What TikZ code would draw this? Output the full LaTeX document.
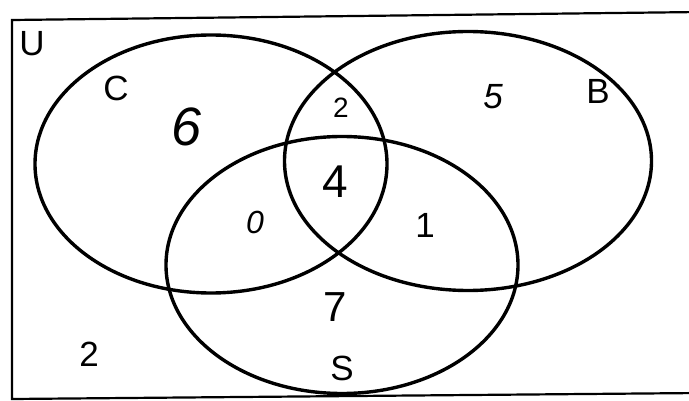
\documentclass[tikz,border=0pt]{standalone}
\usepackage{fontspec}
\setmainfont{Liberation Sans}
\usetikzlibrary{shapes.geometric}
\begin{document}
\begin{tikzpicture}[x=1pt,y=-1pt,
  setshape/.style={ellipse, draw, line width=3.4pt, inner sep=0pt},
  setlabel/.style={font=\fontsize{35}{38}\selectfont, inner sep=0pt},
  count/.style={inner sep=0pt}]
\useasboundingbox (0,0) rectangle (689,401);
\fill[white] (0,0) rectangle (689,401);
% universe frame
\coordinate (ul) at (12,20);
\coordinate (ur) at (700,12);
\coordinate (ll) at (12,399);
\coordinate (lr) at (700,393);
\draw[line width=2.2pt] (ur) -- (ul) -- (ll) -- (lr);
% sets
\node[setshape, minimum width=352pt, minimum height=258pt] (C) at (211,164) {};
\node[setshape, minimum width=367pt, minimum height=259pt] (B) at (468,161) {};
\node[setshape, minimum width=352pt, minimum height=257pt] (S) at (342,265) {};
% labels
\node[setlabel] (lU) at (32,44) {U};
\node[setlabel] (lC) at (116,88) {C};
\node[setlabel] (lB) at (598,91) {B};
\node[setlabel] (lS) at (342,368) {S};
\node[setlabel] (out) at (89,354) {2};
% counts
\node[count, font=\fontsize{54}{56}\selectfont\itshape] (n6) at (187,127) {6};
\node[count, font=\fontsize{28}{30}\selectfont] (n2) at (341,108) {2};
\node[count, font=\fontsize{35}{37}\selectfont\itshape] (n5) at (493,97) {5};
\node[count, font=\fontsize{46}{48}\selectfont] (n4) at (335,182) {4};
\node[count, font=\fontsize{32}{34}\selectfont\itshape] (n0) at (255,222) {0};
\node[count, font=\fontsize{35}{37}\selectfont] (n1) at (425,225) {1};
\node[count, font=\fontsize{42}{44}\selectfont] (n7) at (335,307) {7};
\end{tikzpicture}
\end{document}
